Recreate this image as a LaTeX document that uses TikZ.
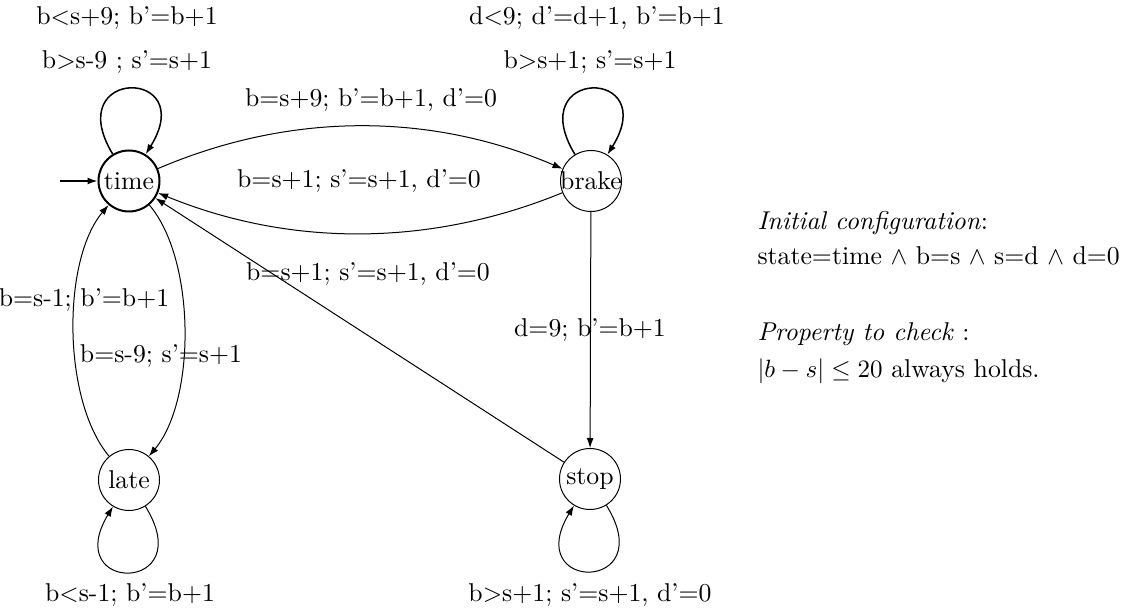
\documentclass[tikz,border=0pt]{standalone}
\usetikzlibrary{arrows.meta}
\tikzset{
  st/.style={circle, draw, line width=0.4pt, minimum size=24.4pt, inner sep=0pt},
  edge/.style={draw, line width=0.4pt, -{Latex[length=4pt,width=2.8pt]}},
  lbl/.style={inner sep=0pt, font=\fontsize{10.3}{12}\selectfont},
}
\begin{document}
\begin{tikzpicture}[x=0.4pt,y=-0.4pt]
\useasboundingbox (0,0) rectangle (1140,612);
\node[st, line width=0.8pt] (time) at (129,181) {};
\node[lbl] at (129,181) {time};
\node[st] (brake) at (591,181) {};
\node[lbl] at (591,181) {brake};
\node[st] (late) at (129,480) {};
\node[lbl] at (129,480) {late};
\node[st] (stop) at (590,479) {};
\node[lbl] at (590,479) {stop};
\coordinate (init) at (60,181);
% initial
\draw[edge, line width=0.6pt] (init) -- (time);
% self loops
\draw[edge, line width=0.6pt] (time) .. controls (60,67) and (200,67) .. (time);
\draw[edge, line width=0.6pt] (brake) .. controls (522,67) and (662,67) .. (brake);
\draw[edge] (late) .. controls (200,594) and (60,594) .. (late);
\draw[edge] (stop) .. controls (661,593) and (521,593) .. (stop);
% arcs
\draw[edge] (time) .. controls (290,112) and (430,112) .. (brake);
\draw[edge] (brake) .. controls (430,247) and (290,247) .. (time);
\draw[edge] (stop) -- (time);
\draw[edge] (brake) -- (stop);
\draw[edge] (late) .. controls (62,400) and (62,260) .. (time);
\draw[edge] (time) .. controls (196,260) and (196,400) .. (late);
% loop labels
\node[lbl] (l1) at (127,18) {b$<$s+9; b'=b+1};
\node[lbl] (l2) at (127,62) {b$>$s-9 ; s'=s+1};
\node[lbl] (l3) at (597,18) {d$<$9; d'=d+1, b'=b+1};
\node[lbl] (l4) at (590,62) {b$>$s+1; s'=s+1};
\node[lbl] (l5) at (130,595) {b$<$s-1; b'=b+1};
\node[lbl] (l6) at (590,595) {b$>$s+1; s'=s+1, d'=0};
% edge labels
\node[lbl] (e1) at (371,100) {b=s+9; b'=b+1, d'=0};
\node[lbl] (e2) at (359,181) {b=s+1; s'=s+1, d'=0};
\node[lbl] (e3) at (368,274) {b=s+1; s'=s+1, d'=0};
\node[lbl] (e4) at (590,330) {d=9; b'=b+1};
\node[lbl] (e5) at (84,300) {b=s-1; b'=b+1};
\node[lbl] (e6) at (161,356) {b=s-9; s'=s+1};
% side text
\node[lbl, anchor=base west] (t1) at (757,230) {\textit{Initial configuration}:};
\node[lbl, anchor=base west] (t2) at (757,265) {state=time $\wedge$ b=s $\wedge$ s=d $\wedge$ d=0};
\node[lbl, anchor=base west] (t3) at (757,341) {\textit{Property to check} :};
\node[lbl, anchor=base west] (t4) at (757,378) {$|b-s|\leq 20$ always holds.};
\end{tikzpicture}
\end{document}
